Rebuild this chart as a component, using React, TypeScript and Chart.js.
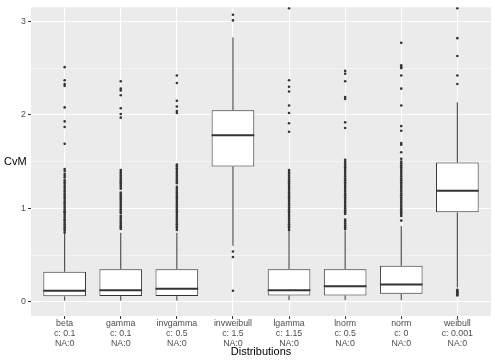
import React, { useEffect, useRef } from 'react';
import { Chart, registerables } from 'chart.js';

Chart.register(...registerables);

const categories = ['beta', 'gamma', 'invgamma', 'invweibull', 'lgamma', 'lnorm', 'norm', 'weibull'];
const cParams = ['c: 0.1', 'c: 0.1', 'c: 0.5', 'c: 1.5', 'c: 1.15', 'c: 0.5', 'c: 0', 'c: 0.001'];
const naCounts = ['NA:0', 'NA:0', 'NA:0', 'NA:0', 'NA:0', 'NA:0', 'NA:0', 'NA:0'];

const whiskerLow = [0.014, 0.014, 0.014, 0.6, 0.02, 0.02, 0.02, 0.155];
const q1 = [0.06, 0.063, 0.063, 1.449, 0.07, 0.07, 0.088, 0.958];
const medians = [0.119, 0.126, 0.14, 1.782, 0.126, 0.168, 0.186, 1.189];
const q3 = [0.323, 0.351, 0.351, 2.049, 0.351, 0.351, 0.386, 1.491];
const whiskerHigh = [0.726, 0.74, 0.74, 2.828, 0.758, 0.765, 0.81, 2.134];

const outBeta = [0.74, 0.76, 0.78, 0.79, 0.81, 0.83, 0.85, 0.87, 0.88, 0.9, 0.92, 0.94, 0.96, 0.97, 0.99, 1.01, 1.03, 1.05, 1.06, 1.08, 1.1, 1.12, 1.14, 1.16, 1.18, 1.2, 1.22, 1.24, 1.26, 1.28, 1.3, 1.33, 1.35, 1.37, 1.4, 1.42, 1.69, 1.87, 1.93, 2.08, 2.31, 2.33, 2.37, 2.51];
const outGamma = [0.78, 0.8, 0.82, 0.84, 0.86, 0.88, 0.9, 0.92, 0.95, 0.97, 0.99, 1.01, 1.03, 1.05, 1.07, 1.09, 1.11, 1.13, 1.15, 1.17, 1.21, 1.23, 1.25, 1.27, 1.29, 1.31, 1.33, 1.35, 1.37, 1.39, 1.41, 1.97, 2.01, 2.07, 2.21, 2.26, 2.28, 2.36];
const outInvgamma = [0.77, 0.79, 0.81, 0.83, 0.85, 0.87, 0.89, 0.91, 0.93, 0.95, 0.97, 0.99, 1.01, 1.03, 1.05, 1.07, 1.09, 1.11, 1.13, 1.15, 1.17, 1.19, 1.21, 1.23, 1.27, 1.29, 1.31, 1.33, 1.35, 1.37, 1.39, 1.41, 1.43, 1.45, 1.47, 2.02, 2.04, 2.09, 2.15, 2.34, 2.42];
const outInvweibull = [0.12, 0.48, 0.54, 3.01, 3.07];
const outLgamma = [0.77, 0.79, 0.81, 0.83, 0.85, 0.87, 0.89, 0.91, 0.93, 0.95, 0.97, 0.99, 1.01, 1.03, 1.05, 1.07, 1.09, 1.11, 1.13, 1.15, 1.17, 1.19, 1.21, 1.23, 1.25, 1.27, 1.29, 1.31, 1.33, 1.35, 1.37, 1.39, 1.41, 1.82, 1.91, 2.02, 2.1, 2.25, 2.3, 2.37, 3.14];
const outLnorm = [0.78, 0.8, 0.82, 0.84, 0.86, 0.88, 0.94, 0.96, 0.98, 1.0, 1.02, 1.04, 1.06, 1.08, 1.1, 1.12, 1.14, 1.16, 1.18, 1.2, 1.22, 1.24, 1.26, 1.28, 1.3, 1.32, 1.34, 1.36, 1.38, 1.4, 1.42, 1.44, 1.46, 1.48, 1.5, 1.52, 1.86, 1.92, 2.17, 2.19, 2.36, 2.44, 2.47];
const outNorm = [0.87, 0.92, 0.94, 0.96, 0.98, 1.0, 1.02, 1.04, 1.06, 1.08, 1.1, 1.12, 1.14, 1.16, 1.18, 1.2, 1.22, 1.24, 1.26, 1.28, 1.3, 1.32, 1.34, 1.36, 1.38, 1.4, 1.42, 1.44, 1.46, 1.48, 1.5, 1.53, 1.6, 1.68, 1.7, 1.83, 1.88, 2.1, 2.28, 2.42, 2.5, 2.51, 2.53, 2.77];
const outWeibull = [0.07, 0.08, 0.09, 0.1, 0.11, 0.12, 0.13, 2.33, 2.42, 2.63, 2.82, 3.14];

const outliers = [outBeta, outGamma, outInvgamma, outInvweibull, outLgamma, outLnorm, outNorm, outWeibull];
const yTicks = [0, 0.5, 1, 1.5, 2, 2.5, 3];

const FONT = "'Liberation Sans', Arial, Helvetica, sans-serif";
const INK = '#333333';

const boxPlugin = {
  id: 'ggBox',
  beforeDraw(chart: any) {
    const { ctx, chartArea: a } = chart;
    ctx.save();
    ctx.fillStyle = '#EBEBEB';
    ctx.fillRect(a.left, a.top, a.right - a.left, a.bottom - a.top);
    ctx.restore();
  },
  beforeDatasetsDraw(chart: any) {
    const { ctx } = chart;
    const xs = chart.scales.x;
    const ys = chart.scales.y;
    ctx.save();
    ctx.strokeStyle = INK;
    ctx.lineWidth = 1;
    categories.forEach((_, i) => {
      const x = xs.getPixelForValue(i + 1);
      ctx.beginPath();
      ctx.moveTo(x, ys.getPixelForValue(q3[i]));
      ctx.lineTo(x, ys.getPixelForValue(whiskerHigh[i]));
      ctx.moveTo(x, ys.getPixelForValue(q1[i]));
      ctx.lineTo(x, ys.getPixelForValue(whiskerLow[i]));
      ctx.stroke();
    });
    ctx.restore();
  },
  afterDatasetDraw(chart: any, args: any) {
    if (args.meta.type !== 'bar') return;
    const { ctx } = chart;
    const ys = chart.scales.y;
    ctx.save();
    ctx.strokeStyle = INK;
    ctx.lineWidth = 2;
    args.meta.data.forEach((el: any, i: number) => {
      const y = ys.getPixelForValue(medians[i]);
      ctx.beginPath();
      ctx.moveTo(el.x - el.width / 2, y);
      ctx.lineTo(el.x + el.width / 2, y);
      ctx.stroke();
    });
    ctx.restore();
  },
  afterDraw(chart: any) {
    const { ctx, chartArea: a } = chart;
    ctx.save();
    ctx.fillStyle = '#000000';
    ctx.font = `11px ${FONT}`;
    ctx.textAlign = 'left';
    ctx.textBaseline = 'middle';
    ctx.fillText('CvM', 4, (a.top + a.bottom) / 2);
    ctx.restore();
  },
};

export default function App() {
  const ref = useRef<HTMLCanvasElement | null>(null);

  useEffect(() => {
    document.body.style.margin = '0';
    const canvas = ref.current;
    if (!canvas) return;

    const boxData = categories.map((_, i) => ({ x: i + 1, y: [q1[i], q3[i]] }));
    const pointData: { x: number; y: number }[] = [];
    outliers.forEach((arr, i) => arr.forEach((v) => pointData.push({ x: i + 1, y: v })));

    const chart = new Chart(canvas, {
      type: 'bar',
      data: {
        datasets: [
          {
            type: 'bar',
            data: boxData as any,
            backgroundColor: '#FFFFFF',
            borderColor: INK,
            borderWidth: 1,
            borderSkipped: false,
            categoryPercentage: 1,
            barPercentage: 0.76,
            order: 2,
          } as any,
          {
            type: 'scatter',
            data: pointData as any,
            backgroundColor: INK,
            borderWidth: 0,
            pointRadius: 1.3,
            order: 1,
          } as any,
        ],
      },
      options: {
        animation: false,
        responsive: false,
        devicePixelRatio: 1,
        events: [],
        layout: { padding: { top: 3, right: 3, left: 0, bottom: 0 } },
        plugins: { legend: { display: false }, tooltip: { enabled: false } },
        scales: {
          x: {
            type: 'linear',
            min: 0.4,
            max: 8.6,
            offset: false,
            afterBuildTicks: (s: any) => {
              s.ticks = categories.map((_, i) => ({ value: i + 1 }));
            },
            afterFit: (s: any) => {
              s.height = 44;
            },
            ticks: {
              autoSkip: false,
              maxRotation: 0,
              minRotation: 0,
              padding: 0,
              color: '#4D4D4D',
              font: { family: FONT, size: 8.8, lineHeight: 1.1 },
              callback: (v: any) => {
                const i = Math.round(Number(v)) - 1;
                return [categories[i], cParams[i], naCounts[i]];
              },
            },
            grid: {
              offset: false,
              color: '#FFFFFF',
              lineWidth: 1.07,
              tickColor: INK,
              tickLength: 3,
              tickWidth: 1,
            },
            border: { display: false },
            title: {
              display: true,
              text: 'Distributions',
              color: '#000000',
              font: { family: FONT, size: 11 },
              padding: { top: 0, bottom: 1.5 },
            },
          },
          y: {
            type: 'linear',
            min: -0.15,
            max: 3.15,
            afterBuildTicks: (s: any) => {
              s.ticks = yTicks.map((v) => ({ value: v }));
            },
            afterFit: (s: any) => {
              s.width = 31;
            },
            ticks: {
              padding: 2,
              color: '#4D4D4D',
              font: { family: FONT, size: 8.8 },
              callback: (v: any) => (Number.isInteger(Number(v)) ? String(v) : ''),
            },
            grid: {
              color: '#FFFFFF',
              lineWidth: (c: any) => (Number.isInteger(c.tick?.value) ? 1.07 : 0.53),
              tickColor: (c: any) => (Number.isInteger(c.tick?.value) ? INK : 'rgba(0,0,0,0)'),
              tickLength: 3,
              tickWidth: 1,
            },
            border: { display: false },
          },
        },
      } as any,
      plugins: [boxPlugin as any],
    });

    return () => chart.destroy();
  }, []);

  return (
    <div style={{ width: 495, height: 360 }}>
      <canvas ref={ref} width={495} height={360} />
    </div>
  );
}
